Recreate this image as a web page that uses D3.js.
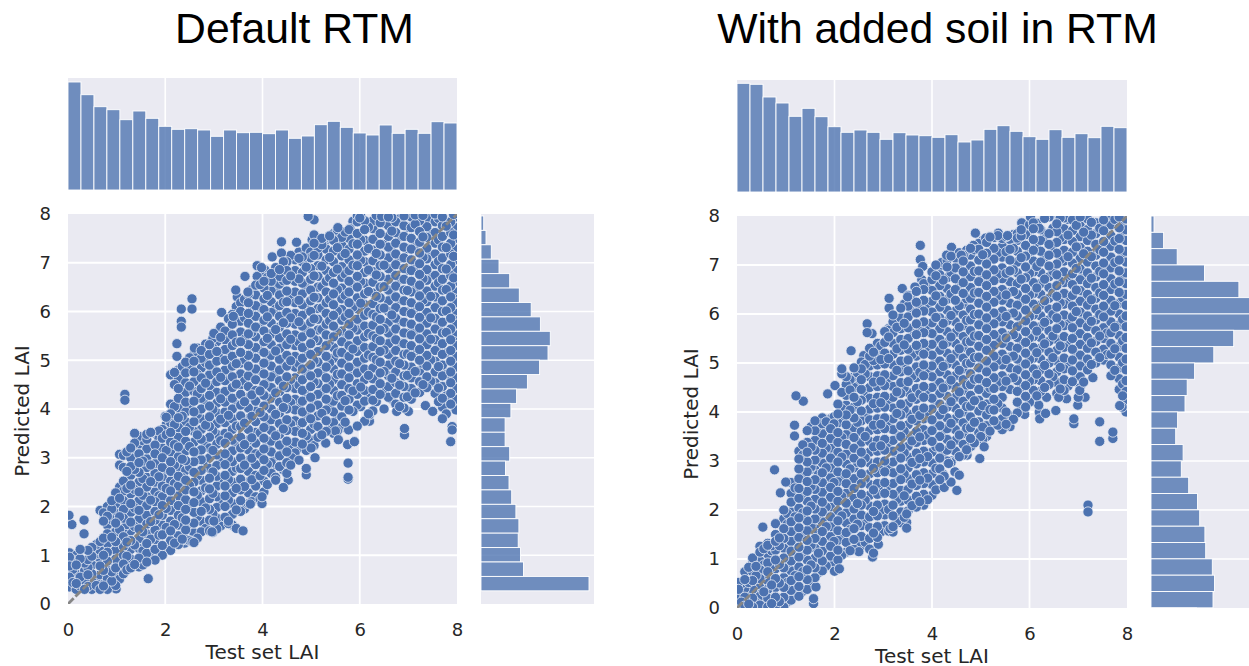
<!DOCTYPE html>
<html><head><meta charset="utf-8">
<script src="https://cdn.jsdelivr.net/npm/d3@7"></script>
<style>html,body{margin:0;background:#fff}svg{display:block}</style></head>
<body><svg id="c" width="1249" height="666"></svg>
<script>
const titles=["Default RTM","With added soil in RTM"];
const xTicks=[0,2,4,6,8];
const yTicks=[0,1,2,3,4,5,6,7,8];
const xLabel="Test set LAI", yLabel="Predicted LAI";

const leftTop=[108,95.3,83.3,80.3,70.3,79,71.7,63.7,60.7,61.3,60,53.7,60,57.3,57.7,56.3,60,51.7,54,65.3,68.7,62.7,57,55,65,56.7,60.7,56.7,68.3,67];
const rightTop=[108.7,107.7,95,89,75.7,83.7,75.3,65.3,59.7,62,59.7,52.7,59.3,57,56.3,54.7,57.3,50,52,62.7,66.3,60.7,55.3,52.7,62.3,54.7,58.3,54.3,65.7,64.3];
const leftSide=[2.7,5,10.3,18,28.7,38.3,50.2,59.4,69.3,67,58.6,46.4,35.6,29.9,24.1,24.1,28.7,24.5,28,30.7,34.9,37.9,37.2,39.5,42.5,108];
const rightSide=[3,12.6,26.2,53.5,87.9,106,108,82.7,62.8,43.6,36.2,34,26.6,24.7,32.1,30.3,37.7,46.5,48.7,53.9,54.7,61.3,63.5,62,45.4];
const leftSideRange=[7.96,0.27];
const rightSideRange=[8.0,-0.33];

const leftColX=[.03,.17,.34,.49,.66,.81,.98,1.14,1.29,1.46,1.62,1.79,1.94,2.11,2.27,2.42,2.59,2.74,2.91,3.06,3.23,3.38,3.55,3.71,3.86,4.03,4.18,4.35,4.5,4.67,4.82,4.99,5.14,5.31,5.46,5.63,5.78,5.95,6.1,6.27,6.42,6.59,6.74,6.91,7.06,7.23,7.38,7.55,7.7,7.87,7.98];
const leftColY=[
[.35,.55,.78,.96,1.05],
[.3,.42,.62,.8,1.0],
[.3,.48,.68,.84],
[.3,.46,.62,.8,.98,1.16],
[.3,.44,.6,.78,.94,1.1,1.28,1.92],
[.3,.52,.7,.88,1.06,1.24,1.44,1.62,1.8,2.0],
[.38,.56,.74,.92,1.1,1.28,1.48,1.66,1.86,2.04,2.28],
[.62,.82,1.0,1.18,1.38,1.56,1.76,1.94,2.12,2.32,2.52,2.8,3.05],
[.74,.92,1.12,1.3,1.5,1.68,1.88,2.06,2.26,2.44,2.64,2.82,3.0,3.2],
[.76,.94,1.14,1.34,1.54,1.74,1.92,2.12,2.3,2.5,2.7,2.9,3.08,3.28,3.44],
[.86,1.04,1.24,1.44,1.64,1.82,2.02,2.2,2.4,2.6,2.8,2.98,3.18,3.38,3.48],
[.9,1.12,1.32,1.52,1.72,1.9,2.1,2.3,2.5,2.68,2.88,3.08,3.26,3.5],
[1.0,1.2,1.42,1.62,1.82,2.02,2.2,2.42,2.6,2.8,3.0,3.2,3.4,3.58],
[1.1,1.3,1.5,1.7,1.92,2.12,2.32,2.52,2.72,2.92,3.12,3.32,3.52,3.72,3.9,4.1,4.7],
[1.22,1.4,1.62,1.82,2.02,2.22,2.42,2.62,2.82,3.02,3.22,3.42,3.62,3.82,4.02,4.22,4.42,4.62,4.8],
[1.32,1.52,1.72,1.94,2.14,2.34,2.54,2.74,2.94,3.14,3.34,3.54,3.74,3.94,4.14,4.34,4.54,4.74,4.96],
[1.26,1.46,1.66,1.88,2.08,2.3,2.5,2.7,2.92,3.12,3.32,3.54,3.74,3.94,4.16,4.36,4.56,4.76,4.98,5.12],
[1.48,1.7,1.9,2.1,2.32,2.54,2.74,2.96,3.16,3.38,3.58,3.8,4.0,4.22,4.42,4.64,4.84,5.04,5.2],
[1.5,1.72,1.94,2.16,2.36,2.58,2.78,3.0,3.2,3.42,3.64,3.84,4.06,4.28,4.48,4.7,4.9,5.12,5.32],
[1.54,1.76,1.98,2.2,2.42,2.62,2.84,3.06,3.28,3.48,3.7,3.92,4.12,4.34,4.56,4.76,4.98,5.18,5.38],
[1.78,2.0,2.22,2.42,2.64,2.86,3.08,3.3,3.5,3.72,3.94,4.14,4.36,4.58,4.8,5.0,5.22,5.42,5.6],
[1.62,1.84,2.06,2.28,2.5,2.72,2.92,3.14,3.36,3.58,3.8,4.0,4.22,4.44,4.66,4.88,5.08,5.3,5.52,5.74,5.94],
[1.9,2.12,2.34,2.56,2.78,3.0,3.2,3.42,3.64,3.86,4.08,4.3,4.5,4.72,4.94,5.16,5.38,5.58,5.8,6.0,6.18],
[2.06,2.28,2.5,2.72,2.94,3.16,3.36,3.58,3.8,4.02,4.24,4.46,4.68,4.88,5.1,5.32,5.54,5.76,5.96,6.18,6.36],
[2.2,2.42,2.64,2.86,3.08,3.3,3.52,3.74,3.96,4.16,4.38,4.6,4.82,5.04,5.26,5.48,5.68,5.9,6.12,6.34,6.54],
[2.3,2.52,2.74,2.96,3.18,3.4,3.62,3.84,4.06,4.28,4.5,4.72,4.94,5.16,5.38,5.6,5.82,6.04,6.26,6.48,6.62],
[2.68,2.9,3.12,3.34,3.56,3.78,4.0,4.22,4.44,4.66,4.88,5.1,5.32,5.54,5.76,5.98,6.2,6.42,6.62,6.78],
[2.82,3.04,3.26,3.48,3.7,3.92,4.14,4.36,4.58,4.8,5.02,5.24,5.46,5.68,5.9,6.12,6.34,6.56,6.72,6.86],
[2.68,2.9,3.12,3.34,3.56,3.78,4.0,4.22,4.44,4.66,4.88,5.1,5.32,5.54,5.76,5.98,6.2,6.42,6.64,6.84,7.02],
[3.1,3.32,3.54,3.76,3.98,4.2,4.42,4.64,4.86,5.08,5.3,5.52,5.74,5.96,6.18,6.4,6.62,6.84,7.06],
[3.28,3.5,3.72,3.94,4.16,4.38,4.6,4.82,5.04,5.26,5.48,5.7,5.92,6.14,6.36,6.58,6.8,7.02,7.12],
[3.36,3.58,3.8,4.02,4.24,4.46,4.68,4.9,5.12,5.34,5.56,5.78,6.0,6.22,6.44,6.66,6.88,7.1,7.22],
[3.42,3.64,3.86,4.08,4.3,4.52,4.74,4.96,5.18,5.4,5.62,5.84,6.06,6.28,6.5,6.72,6.94,7.16,7.3],
[3.54,3.76,3.98,4.2,4.42,4.64,4.86,5.08,5.3,5.52,5.74,5.96,6.18,6.4,6.62,6.84,7.06,7.28,7.46],
[3.5,3.72,3.94,4.16,4.38,4.6,4.82,5.04,5.26,5.48,5.7,5.92,6.14,6.36,6.58,6.8,7.02,7.24,7.46,7.6],
[3.62,3.84,4.06,4.28,4.5,4.72,4.94,5.16,5.38,5.6,5.82,6.04,6.26,6.48,6.7,6.92,7.14,7.36,7.52],
[3.98,4.2,4.42,4.64,4.86,5.08,5.3,5.52,5.74,5.96,6.18,6.4,6.62,6.84,7.06,7.28,7.5,7.68],
[4.08,4.3,4.52,4.74,4.96,5.18,5.4,5.62,5.84,6.06,6.28,6.5,6.72,6.94,7.16,7.38,7.6,7.84,7.96],
[4.16,4.38,4.6,4.82,5.04,5.26,5.48,5.7,5.92,6.14,6.36,6.58,6.8,7.02,7.24,7.46,7.68,7.86],
[3.96,4.18,4.4,4.62,4.84,5.06,5.28,5.5,5.72,5.94,6.16,6.38,6.6,6.82,7.04,7.26,7.48,7.7,7.86],
[4.3,4.52,4.74,4.96,5.18,5.4,5.62,5.84,6.06,6.28,6.5,6.72,6.94,7.16,7.38,7.6,7.82],
[4.24,4.46,4.68,4.9,5.12,5.34,5.56,5.78,6.0,6.22,6.44,6.66,6.88,7.1,7.32,7.54,7.76,7.94],
[4.1,4.32,4.54,4.76,4.98,5.2,5.42,5.64,5.86,6.08,6.3,6.52,6.74,6.96,7.18,7.4,7.62,7.84],
[4.02,4.24,4.46,4.68,4.9,5.12,5.34,5.56,5.78,6.0,6.22,6.44,6.66,6.88,7.1,7.32,7.54,7.76,7.96],
[4.2,4.42,4.64,4.86,5.08,5.3,5.52,5.74,5.96,6.18,6.4,6.62,6.84,7.06,7.28,7.5,7.72,7.94],
[4.34,4.56,4.78,5.0,5.22,5.44,5.66,5.88,6.1,6.32,6.54,6.76,6.98,7.2,7.42,7.64,7.86],
[4.44,4.66,4.88,5.1,5.32,5.54,5.76,5.98,6.2,6.42,6.64,6.86,7.08,7.3,7.52,7.74,7.92],
[4.32,4.54,4.76,4.98,5.2,5.42,5.64,5.86,6.08,6.3,6.52,6.74,6.96,7.18,7.4,7.62,7.84,8.0],
[4.04,4.22,4.46,4.68,4.9,5.12,5.34,5.56,5.78,6.0,6.22,6.44,6.66,6.88,7.1,7.32,7.54,7.76,7.94],
[4.1,4.32,4.54,4.76,4.98,5.2,5.42,5.64,5.86,6.08,6.3,6.52,6.74,6.96,7.18,7.4,7.62,7.84],
[3.98,4.2,4.42,4.64,4.86,5.08,5.3,5.52,5.74,5.96,6.18,6.4,6.62,6.84,7.06,7.28,7.5,7.72,7.94]
];
const leftCol2X=[.1,.25,.41,.58,.73,.9,1.06,1.21,1.37,1.54,1.7,1.87,2.02,2.19,2.35,2.5,2.66,2.83,2.98,3.14,3.3,3.46,3.63,3.78,3.95,4.1,4.27,4.43,4.58,4.75,4.9,5.06,5.22,5.38,5.54,5.7,5.86,6.02,6.18,6.34,6.5,6.66,6.82,6.98,7.14,7.3,7.46,7.62,7.78,7.93];
const leftCol2Y=[
[.44,.71,.9],
[.37,.55,.93,1.12],
[.36,.6,.75,1.1,.91],
[.38,.53,.87,1.22,1.03],
[.37,.69,1.0,1.35,1.7,1.87],
[.47,.66,1.15,1.37,1.73,1.95,2.12],
[.51,.83,1.2,1.53,1.79,2.17,2.4,2.85,3.07],
[.7,.98,1.27,1.63,2.03,2.37,2.72,3.12],
[.81,1.21,1.59,1.97,2.35,2.76,3.1,3.3,3.5],
[.8,1.09,1.48,1.87,2.23,2.57,2.93,3.35],
[.95,1.33,1.69,2.13,2.51,2.85,3.21,3.52],
[1.05,1.41,1.83,2.22,2.61,3.03,3.39,3.55],
[1.15,1.57,1.96,2.37,2.77,3.15,3.47,3.83,3.68],
[1.25,1.63,2.05,2.47,2.85,3.27,3.68,4.05,4.5,4.75],
[1.33,1.77,2.19,2.59,2.97,3.39,3.85,4.27,4.68,4.87],
[1.3,1.57,1.98,2.43,2.81,3.23,3.63,4.04,4.47,4.87,5.05],
[1.35,1.79,2.23,2.63,3.07,3.47,3.89,4.31,4.71,5.25],
[1.55,1.97,2.38,2.83,3.25,3.67,4.09,4.53,4.95,5.33],
[1.47,1.85,2.27,2.71,3.15,3.55,3.99,4.39,4.83,5.25,5.45],
[1.6,2.07,2.51,2.93,3.35,3.79,4.21,4.65,5.07,5.47,5.68],
[1.7,2.13,2.55,2.99,3.43,3.87,4.27,4.71,5.13,5.55,5.85],
[1.55,1.93,2.37,2.79,3.23,3.65,4.09,4.51,4.93,5.37,5.79,6.1],
[1.95,2.41,2.85,3.27,3.71,4.15,4.57,5.01,5.43,5.87,6.25],
[2.1,2.55,2.99,3.41,3.85,4.29,4.71,5.15,5.57,6.01,6.45],
[2.15,2.63,3.07,3.51,3.93,4.37,4.79,5.23,5.67,6.09,6.55,6.78],
[2.45,2.87,3.29,3.73,4.15,4.59,5.03,5.45,5.89,6.33,6.7],
[2.6,3.03,3.45,3.89,4.33,4.75,5.19,5.63,6.05,6.49,6.9],
[2.75,3.17,3.59,4.03,4.47,4.89,5.33,5.77,6.19,6.63,7.02],
[2.85,3.27,3.69,4.13,4.57,4.99,5.43,5.87,6.29,6.73,7.15],
[3.2,3.63,4.07,4.49,4.93,5.37,5.79,6.23,6.67,7.09,7.22],
[3.15,3.45,3.89,4.31,4.75,5.19,5.61,6.05,6.49,6.91,7.3],
[3.25,3.69,4.13,4.55,4.99,5.43,5.85,6.29,6.73,7.15,7.4],
[3.47,3.91,4.33,4.77,5.21,5.63,6.07,6.51,6.93,7.37,7.5],
[3.65,4.09,4.51,4.95,5.39,5.81,6.25,6.69,7.11,7.55],
[3.55,3.85,4.27,4.71,5.15,5.57,6.01,6.45,6.87,7.31,7.67],
[3.73,4.17,4.59,5.03,5.47,5.89,6.33,6.77,7.19,7.63],
[3.95,4.37,4.79,5.23,5.65,6.09,6.53,6.95,7.39,7.85],
[4.05,4.45,4.87,5.31,5.75,6.17,6.61,7.05,7.47,7.95],
[3.9,4.25,4.69,5.11,5.55,5.99,6.41,6.85,7.29,7.73],
[4.15,4.59,5.01,5.45,5.89,6.31,6.75,7.19,7.61,7.97],
[4.35,4.77,5.21,5.65,6.07,6.51,6.95,7.37,7.81],
[4.2,4.63,5.05,5.49,5.93,6.35,6.79,7.23,7.65,7.93],
[4.05,4.49,4.93,5.35,5.79,6.23,6.65,7.09,7.53,7.9],
[4.25,4.69,5.13,5.55,5.99,6.43,6.85,7.29,7.73],
[4.33,4.77,5.19,5.63,6.07,6.49,6.93,7.37,7.79,7.98],
[4.5,4.93,5.37,5.81,6.23,6.67,7.11,7.53,7.97],
[4.57,5.01,5.43,5.87,6.31,6.73,7.17,7.61],
[4.15,4.43,4.87,5.29,5.73,6.17,6.59,7.03,7.47,7.91],
[3.9,4.27,4.71,5.15,5.57,6.01,6.45,6.87,7.31,7.75],
[4.09,4.53,4.97,5.39,5.83,6.27,6.69,7.13,7.57,7.99]
];
const leftOutX=[2.33,2.33,2.33,2.55,2.55,2.24,2.24,3.16,3.1,3.45,3.48,3.64,3.89,3.98,3.89,4.2,4.39,4.39,4.7,4.94,5.06,5.06,5.02,4.94,2.53,1.17,1.17,3.6,2.96,1.65,.99,.02,.33,.33,.08,5.77,5.75,5.89,5.76,5.76,5.76,4.9,4.9,5.08,6.92,6.92,7.87,7.9,7.9,7.35,6.2,6.2,6.76,5.56,4.53,4.43,4.27,3.99,3.99,2.0,4.2,4.6,4.75,5.0,5.3,5.5,5.95,6.1,6.5,7.0,7.5,7.7,3.0,3.3,3.75,2.4,2.55,2.6,3.0,3.4,3.7,4.05,4.45,4.75,5.2,5.4,5.55,5.8,6.0,6.45,7.1];
const leftOutY=[6.05,5.8,5.68,6.26,6.05,5.34,5.08,5.98,5.6,6.44,6.3,6.72,6.94,6.9,6.72,7.12,7.43,7.2,7.42,7.95,7.88,7.57,7.47,7.3,4.9,4.3,4.18,1.5,1.48,.52,.31,1.82,1.72,1.44,1.63,3.57,3.27,3.33,2.89,2.6,2.56,2.78,2.65,3.0,3.6,3.47,3.33,3.64,3.57,4.07,3.75,3.88,3.95,3.37,2.54,2.39,2.54,2.06,2.2,3.85,2.8,3.0,2.95,3.2,3.3,3.55,3.65,3.75,4.0,3.95,3.95,3.8,1.7,1.65,2.05,1.25,1.28,5.25,5.55,5.9,6.4,6.85,6.95,7.1,7.45,7.5,7.72,7.7,7.92,7.95,8];

const rightColX=[.03,.16,.32,.47,.63,.79,.96,1.11,1.27,1.44,1.6,1.75,1.92,2.07,2.24,2.4,2.55,2.72,2.88,3.03,3.2,3.36,3.51,3.68,3.83,4.0,4.16,4.31,4.48,4.64,4.79,4.96,5.12,5.27,5.44,5.6,5.75,5.92,6.08,6.23,6.4,6.56,6.71,6.88,7.04,7.19,7.36,7.52,7.67,7.84,7.98];
const rightColY=[
[.02,.2,.38,.52],
[.04,.22,.4,.58,.74],
[.02,.2,.38,.56,.74,.92,1.02],
[.06,.24,.42,.6,.78,.96,1.14,1.26],
[.02,.2,.38,.56,.74,.92,1.1,1.28,1.32],
[.04,.22,.42,.6,.8,.98,1.18,1.36,1.5,1.72],
[.02,.22,.42,.62,.82,1.02,1.22,1.42,1.62,1.82,2.0],
[.16,.36,.56,.76,.96,1.16,1.36,1.56,1.76,1.96,2.16,2.34,2.56],
[.24,.44,.64,.84,1.04,1.24,1.44,1.64,1.84,2.04,2.24,2.44,2.64,2.84,3.04,3.2],
[.38,.58,.78,.98,1.18,1.38,1.58,1.78,1.98,2.18,2.38,2.58,2.78,2.98,3.18,3.38,3.62],
[.62,.82,1.02,1.22,1.42,1.62,1.82,2.02,2.22,2.42,2.62,2.82,3.02,3.22,3.42,3.62,3.82],
[.76,.96,1.16,1.36,1.56,1.76,1.96,2.16,2.36,2.56,2.76,2.96,3.16,3.36,3.56,3.76,3.88],
[.86,1.06,1.26,1.46,1.66,1.86,2.06,2.26,2.46,2.66,2.86,3.06,3.26,3.46,3.66,3.86],
[.98,1.18,1.38,1.58,1.78,1.98,2.18,2.38,2.58,2.78,2.98,3.18,3.38,3.58,3.78,3.96,4.16],
[1.14,1.34,1.54,1.74,1.94,2.14,2.34,2.54,2.74,2.94,3.14,3.34,3.54,3.74,3.94,4.14,4.34,4.56,4.72],
[1.2,1.4,1.62,1.82,2.02,2.24,2.44,2.64,2.86,3.06,3.26,3.48,3.68,3.88,4.1,4.3,4.5,4.72,4.9],
[1.26,1.46,1.68,1.9,2.1,2.32,2.54,2.74,2.96,3.18,3.38,3.6,3.82,4.02,4.24,4.46,4.66,4.88,5.02],
[1.2,1.42,1.64,1.86,2.08,2.3,2.52,2.74,2.96,3.18,3.4,3.62,3.84,4.06,4.28,4.5,4.72,4.94,5.14,5.3],
[1.44,1.66,1.88,2.1,2.32,2.54,2.76,2.98,3.2,3.42,3.64,3.86,4.08,4.3,4.52,4.74,4.96,5.18,5.4],
[1.68,1.9,2.12,2.34,2.56,2.78,3.0,3.22,3.44,3.66,3.88,4.1,4.32,4.54,4.76,4.98,5.2,5.42,5.64],
[1.66,1.88,2.1,2.32,2.54,2.76,2.98,3.2,3.42,3.64,3.86,4.08,4.3,4.52,4.74,4.96,5.18,5.4,5.62,5.84,5.98],
[1.74,1.96,2.18,2.4,2.62,2.84,3.06,3.28,3.5,3.72,3.94,4.16,4.38,4.6,4.82,5.04,5.26,5.48,5.7,5.92,6.12],
[1.98,2.2,2.42,2.64,2.86,3.08,3.3,3.52,3.74,3.96,4.18,4.4,4.62,4.84,5.06,5.28,5.5,5.72,5.94,6.16,6.38],
[2.06,2.28,2.5,2.72,2.94,3.16,3.38,3.6,3.82,4.04,4.26,4.48,4.7,4.92,5.14,5.36,5.58,5.8,6.02,6.24,6.46],
[2.1,2.32,2.54,2.76,2.98,3.2,3.42,3.64,3.86,4.08,4.3,4.52,4.74,4.96,5.18,5.4,5.62,5.84,6.06,6.28,6.5,6.62],
[2.3,2.52,2.74,2.96,3.18,3.4,3.62,3.84,4.06,4.28,4.5,4.72,4.94,5.16,5.38,5.6,5.82,6.04,6.26,6.48,6.7,6.86],
[2.62,2.84,3.06,3.28,3.5,3.72,3.94,4.16,4.38,4.6,4.82,5.04,5.26,5.48,5.7,5.92,6.14,6.36,6.58,6.8,6.98],
[3.0,3.22,3.44,3.66,3.88,4.1,4.32,4.54,4.76,4.98,5.2,5.42,5.64,5.86,6.08,6.3,6.52,6.74,6.96,7.1],
[3.2,3.42,3.64,3.86,4.08,4.3,4.52,4.74,4.96,5.18,5.4,5.62,5.84,6.06,6.28,6.5,6.72,6.94,7.14],
[3.12,3.34,3.56,3.78,4.0,4.22,4.44,4.66,4.88,5.1,5.32,5.54,5.76,5.98,6.2,6.42,6.64,6.86,7.08,7.2],
[3.46,3.68,3.9,4.12,4.34,4.56,4.78,5.0,5.22,5.44,5.66,5.88,6.1,6.32,6.54,6.76,6.98,7.2,7.34],
[3.58,3.8,4.02,4.24,4.46,4.68,4.9,5.12,5.34,5.56,5.78,6.0,6.22,6.44,6.66,6.88,7.1,7.32,7.44],
[3.5,3.72,3.94,4.16,4.38,4.6,4.82,5.04,5.26,5.48,5.7,5.92,6.14,6.36,6.58,6.8,7.02,7.24,7.46],
[3.82,4.04,4.26,4.48,4.7,4.92,5.14,5.36,5.58,5.8,6.02,6.24,6.46,6.68,6.9,7.12,7.34,7.56],
[3.64,3.86,4.08,4.3,4.52,4.74,4.96,5.18,5.4,5.62,5.84,6.06,6.28,6.5,6.72,6.94,7.16,7.38,7.54],
[3.7,3.92,4.46,4.68,4.9,5.12,5.34,5.56,5.78,6.0,6.22,6.44,6.66,6.88,7.1,7.32,7.52],
[3.98,4.2,4.42,4.64,4.86,5.08,5.3,5.52,5.74,5.96,6.18,6.4,6.62,6.84,7.06,7.28,7.5,7.64],
[4.1,4.32,4.54,4.76,4.98,5.2,5.42,5.64,5.86,6.08,6.3,6.52,6.74,6.96,7.18,7.4,7.62,7.74],
[4.22,4.44,4.66,4.88,5.1,5.32,5.54,5.76,5.98,6.2,6.42,6.64,6.86,7.08,7.3,7.52,7.74,7.86],
[4.42,4.64,4.86,5.08,5.3,5.52,5.74,5.96,6.18,6.4,6.62,6.84,7.06,7.28,7.5,7.72],
[4.56,4.78,5.0,5.22,5.44,5.66,5.88,6.1,6.32,6.54,6.76,6.98,7.2,7.42,7.64,7.98],
[4.38,4.6,4.82,5.04,5.26,5.48,5.7,5.92,6.14,6.36,6.58,6.8,7.02,7.24,7.46,7.68,7.84],
[4.44,4.66,4.88,5.1,5.32,5.54,5.76,5.98,6.2,6.42,6.64,6.86,7.08,7.3,7.52,7.74,7.96],
[4.62,4.84,5.06,5.28,5.5,5.72,5.94,6.16,6.38,6.6,6.82,7.04,7.26,7.48,7.7,7.92],
[4.5,4.72,4.94,5.16,5.38,5.6,5.82,6.04,6.26,6.48,6.7,6.92,7.14,7.36,7.58,7.8,7.98],
[4.86,5.08,5.3,5.52,5.74,5.96,6.18,6.4,6.62,6.84,7.06,7.28,7.5,7.72,7.94],
[5.0,5.22,5.44,5.66,5.88,6.1,6.32,6.54,6.76,6.98,7.2,7.42,7.64,7.86],
[5.06,5.28,5.5,5.72,5.94,6.16,6.38,6.6,6.82,7.04,7.26,7.48,7.7,7.92],
[4.74,4.96,5.18,5.4,5.62,5.84,6.06,6.28,6.5,6.72,6.94,7.16,7.38,7.6,7.82],
[4.46,4.68,4.9,5.12,5.34,5.56,5.78,6.0,6.22,6.44,6.66,6.88,7.1,7.32,7.54,7.76,7.98],
[4.2,4.42,4.64,4.86,5.08,5.3,5.52,5.74,5.96,6.18,6.4,6.62,6.84,7.06,7.28,7.5,7.72,7.94]
];
const rightCol2X=[.09,.24,.39,.55,.71,.87,1.03,1.19,1.35,1.52,1.67,1.83,1.99,2.15,2.32,2.47,2.63,2.8,2.95,3.11,3.28,3.43,3.59,3.75,3.91,4.08,4.23,4.39,4.56,4.71,4.87,5.04,5.19,5.35,5.52,5.67,5.83,6.0,6.15,6.31,6.48,6.63,6.79,6.96,7.11,7.27,7.44,7.59,7.75,7.91];
const rightCol2Y=[
[.12,.33,.49],
[.08,.31,.52,.83],
[.11,.29,.66,.85],
[.15,.33,.69,.88,1.21],
[.09,.47,.83,1.17,1.27],
[.13,.51,.89,1.27,1.43],
[.12,.52,.92,1.32,1.71,1.93],
[.26,.66,1.06,1.46,1.86,2.25,2.45],
[.34,.74,1.14,1.54,1.94,2.34,2.74,3.12,3.33],
[.48,.88,1.28,1.68,2.08,2.48,2.88,3.28,3.7],
[.72,1.12,1.52,1.92,2.32,2.72,3.12,3.52,3.72],
[.86,1.26,1.66,2.06,2.46,2.86,3.26,3.66,3.8],
[.93,1.36,1.76,2.16,2.56,2.96,3.36,3.76,3.9],
[1.08,1.48,1.88,2.28,2.68,3.08,3.48,3.88,4.07,4.4],
[1.17,1.6,2.04,2.44,2.84,3.24,3.64,4.04,4.45,4.66],
[1.29,1.71,2.13,2.55,2.97,3.37,3.79,4.21,4.63,4.8],
[1.34,1.78,2.2,2.64,3.06,3.5,3.92,4.36,4.78,4.97],
[1.12,1.53,1.97,2.41,2.85,3.29,3.73,4.17,4.61,5.05,5.22],
[1.55,1.99,2.43,2.87,3.31,3.75,4.19,4.63,5.07,5.35],
[1.57,2.01,2.45,2.89,3.33,3.77,4.21,4.65,5.09,5.53,5.7],
[1.77,2.21,2.65,3.09,3.53,3.97,4.41,4.85,5.29,5.73,5.9],
[1.85,2.29,2.73,3.17,3.61,4.05,4.49,4.93,5.37,5.81,6.2],
[2.09,2.53,2.97,3.41,3.85,4.29,4.73,5.17,5.61,6.05,6.3],
[2.17,2.61,3.05,3.49,3.93,4.37,4.81,5.25,5.69,6.13,6.55],
[2.21,2.65,3.09,3.53,3.97,4.41,4.85,5.29,5.73,6.17,6.58],
[2.41,2.85,3.29,3.73,4.17,4.61,5.05,5.49,5.93,6.37,6.78,7.0],
[2.73,3.17,3.61,4.05,4.49,4.93,5.37,5.81,6.25,6.69,7.05],
[2.57,2.97,3.33,3.77,4.21,4.65,5.09,5.53,5.97,6.41,6.85,7.18],
[3.09,3.53,3.97,4.41,4.85,5.29,5.73,6.17,6.61,7.05,7.25],
[3.23,3.67,4.11,4.55,4.99,5.43,5.87,6.31,6.75,7.19,7.3],
[3.37,3.79,4.23,4.67,5.11,5.55,5.99,6.43,6.87,7.31],
[3.44,3.69,4.13,4.57,5.01,5.45,5.89,6.33,6.77,7.21,7.5],
[3.61,4.05,4.49,4.93,5.37,5.81,6.25,6.69,7.13,7.57],
[3.73,4.17,4.61,5.05,5.49,5.93,6.37,6.81,7.25,7.6],
[3.75,4.0,4.63,5.07,5.51,5.95,6.39,6.83,7.27,7.58],
[3.85,4.7,5.14,5.58,6.02,6.46,6.9,7.34,7.62],
[4.07,4.51,4.95,5.39,5.83,6.27,6.71,7.15,7.59,7.72],
[4.2,4.63,5.07,5.51,5.95,6.39,6.83,7.27,7.71,7.82],
[4.33,4.77,5.21,5.65,6.09,6.53,6.97,7.41,7.85],
[4.5,4.95,5.39,5.83,6.27,6.71,7.15,7.59,7.95],
[4.72,5.11,5.55,5.99,6.43,6.87,7.31,7.75],
[4.47,4.91,5.35,5.79,6.23,6.67,7.11,7.55,7.96],
[4.53,4.97,5.41,5.85,6.29,6.73,7.17,7.61,7.93],
[4.73,5.17,5.61,6.05,6.49,6.93,7.37,7.81],
[4.61,5.03,5.47,5.91,6.35,6.79,7.23,7.67,7.99],
[4.97,5.41,5.85,6.29,6.73,7.17,7.61,7.87],
[5.11,5.55,5.99,6.43,6.87,7.31,7.75],
[5.17,5.61,6.05,6.49,6.93,7.37,7.81,7.97],
[4.85,5.29,5.73,6.17,6.61,7.05,7.49,7.93],
[4.33,4.57,5.01,5.45,5.89,6.33,6.77,7.21,7.65,7.9]
];
const rightOutX=[3.76,3.76,3.81,3.73,3.79,3.39,3.12,3.12,2.67,2.67,2.77,3.11,2.34,2.15,2.15,4.4,4.89,5.36,5.19,5.84,6.02,6.42,1.21,1.36,1.86,2.01,1.18,1.18,.77,1.0,.89,.53,7.2,7.2,7.44,7.44,7.71,7.71,6.91,6.91,6.54,6.21,6.33,5.07,4.98,4.72,4.72,4.47,4.56,4.51,4.25,4.25,4.34,2.78,2.1,1.57,1.57,1.62,3.48,3.48,3.48,3.14,7.98,7.85,7.14,7.03,6.76,6.99,6.19,6.35,2.6,3.3,3.5,3.65,4.0,4.2,4.3,4.6,4.85,5.1,5.55,5.75,6.2,6.6,4.4,4.8,5.0,5.5,5.9,6.2,6.6,7.0,7.3,7.9,3.8,3.2,2.9,2.5,2.0];
const rightOutY=[7.4,7.11,6.97,6.84,6.7,6.52,6.32,6.12,5.8,5.62,5.6,5.67,5.25,4.88,4.78,7.36,7.65,7.65,7.58,7.86,7.98,8,4.33,4.22,4.37,4.54,3.73,3.51,2.82,2.57,2.35,1.65,2.1,1.96,3.8,3.4,3.59,3.46,3.86,3.76,4.03,3.86,3.97,3.29,3.05,3.22,3.12,2.78,2.71,2.4,2.46,2.69,2.95,1.04,.8,.19,.09,.43,1.63,1.75,1.92,1.62,4.0,4.13,4.3,4.44,4.27,4.14,4.14,4.3,5.15,5.9,6.35,6.55,6.85,7.05,7.2,7.2,7.4,7.55,7.6,7.55,7.75,7.95,3.0,3.3,3.5,3.7,3.95,4.0,4.3,4.3,4.7,4.1,2.25,1.55,1.3,1.15,.75];

const BG="#eaeaf2", BAR="#4c72b0", TXT="#262626", FONT="'DejaVu Sans',sans-serif";
const svg=d3.select("#c");

function flatten(colX,colY,col2X,col2Y,outX,outY){
  const pts=[];
  colX.forEach((x,i)=>colY[i].forEach(y=>pts.push([x,y])));
  col2X.forEach((x,i)=>col2Y[i].forEach(y=>pts.push([x,y])));
  outX.forEach((x,i)=>pts.push([x,outY[i]]));
  const key=d=>{const v=d[0]*97.3+d[1]*131.7;return v-Math.floor(v);};
  return pts.sort((a,b)=>key(a)-key(b));
}

function panel(id,t,titleX,L,R,mainT,mainB,topT,topB,sideL,sideR,top,side,sideRange,pts,labelY){
  const x=d3.scaleLinear().domain([0,8]).range([L,R]);
  const y=d3.scaleLinear().domain([0,8]).range([mainB,mainT]);
  const g=svg.append("g");
  g.append("text").attr("x",titleX).attr("y",43).attr("text-anchor","middle")
    .attr("font-family","'Liberation Sans',Arial,sans-serif").attr("font-size",42.7).attr("fill","#000").text(t);

  g.append("rect").attr("x",L).attr("y",topT).attr("width",R-L).attr("height",topB-topT).attr("fill",BG);
  const topY=d3.scaleLinear().domain([0,112]).range([topB,topT]);
  xTicks.slice(1,-1).forEach(v=>g.append("line").attr("x1",x(v)).attr("x2",x(v)).attr("y1",topT).attr("y2",topB).attr("stroke","#fff").attr("stroke-width",1.6));
  const step=8/top.length;
  g.append("g").selectAll("rect").data(top).join("rect")
    .attr("x",(d,i)=>x(i*step)).attr("width",(d,i)=>x((i+1)*step)-x(i*step))
    .attr("y",d=>topY(d)).attr("height",d=>topB-topY(d))
    .attr("fill",BAR).attr("fill-opacity",.78).attr("stroke","#fff").attr("stroke-width",.9);

  const clipId="clip"+id, clipS="clipS"+id;
  const defs=svg.append("defs");
  defs.append("clipPath").attr("id",clipS).append("rect").attr("x",sideL).attr("y",mainT).attr("width",sideR-sideL).attr("height",mainB-mainT);
  defs.append("clipPath").attr("id",clipId).append("rect").attr("x",L).attr("y",mainT).attr("width",R-L).attr("height",mainB-mainT);
  g.append("rect").attr("x",sideL).attr("y",mainT).attr("width",sideR-sideL).attr("height",mainB-mainT).attr("fill",BG);
  yTicks.slice(1,-1).forEach(v=>g.append("line").attr("x1",sideL).attr("x2",sideR).attr("y1",y(v)).attr("y2",y(v)).attr("stroke","#fff").attr("stroke-width",1.6));
  const sideX=d3.scaleLinear().domain([0,113]).range([sideL,sideL+113]);
  const sStep=(sideRange[0]-sideRange[1])/side.length;
  g.append("g").attr("clip-path",`url(#${clipS})`).selectAll("rect").data(side).join("rect")
    .attr("x",sideL).attr("width",d=>sideX(d)-sideL)
    .attr("y",(d,i)=>y(sideRange[0]-i*sStep)).attr("height",(d,i)=>y(sideRange[0]-(i+1)*sStep)-y(sideRange[0]-i*sStep))
    .attr("fill",BAR).attr("fill-opacity",.78).attr("stroke","#fff").attr("stroke-width",.9);

  g.append("rect").attr("x",L).attr("y",mainT).attr("width",R-L).attr("height",mainB-mainT).attr("fill",BG);
  xTicks.slice(1,-1).forEach(v=>g.append("line").attr("x1",x(v)).attr("x2",x(v)).attr("y1",mainT).attr("y2",mainB).attr("stroke","#fff").attr("stroke-width",1.8));
  yTicks.slice(1,-1).forEach(v=>g.append("line").attr("x1",L).attr("x2",R).attr("y1",y(v)).attr("y2",y(v)).attr("stroke","#fff").attr("stroke-width",1.8));
  const plot=g.append("g").attr("clip-path",`url(#${clipId})`);
  plot.selectAll("circle").data(pts).join("circle")
    .attr("cx",d=>x(d[0])).attr("cy",d=>y(d[1])).attr("r",5.1)
    .attr("fill",BAR).attr("stroke","#e8ecf5").attr("stroke-width",.8);
  plot.append("line").attr("x1",x(0)).attr("y1",y(0)).attr("x2",x(8)).attr("y2",y(8))
    .attr("stroke","#868686").attr("stroke-width",2.8).attr("stroke-dasharray","8,2.5");

  const ax=g.append("g").attr("transform",`translate(0,${mainB})`).call(d3.axisBottom(x).tickValues(xTicks).tickSize(0).tickPadding(19).tickFormat(d3.format("d")));
  const ay=g.append("g").attr("transform",`translate(${L},0)`).call(d3.axisLeft(y).tickValues(yTicks).tickSize(0).tickPadding(17).tickFormat(d3.format("d")));
  [ax,ay].forEach(a=>{a.select(".domain").remove();a.selectAll("text").attr("font-family",FONT).attr("font-size",18).attr("fill",TXT);});
  g.append("text").attr("x",(L+R)/2).attr("y",mainB+55).attr("text-anchor","middle").attr("font-family",FONT).attr("font-size",20).attr("fill",TXT).text(xLabel);
  g.append("text").attr("transform",`translate(${labelY},${(mainT+mainB)/2+2}) rotate(-90)`).attr("text-anchor","middle").attr("font-family",FONT).attr("font-size",20).attr("fill",TXT).text(yLabel);
}

panel("A",titles[0],294.5,68,457,214,604,78,190,481,594,leftTop,leftSide,leftSideRange,flatten(leftColX,leftColY,leftCol2X,leftCol2Y,leftOutX,leftOutY),29);
panel("B",titles[1],937.5,737,1127,216,608,80,192,1151,1264,rightTop,rightSide,rightSideRange,flatten(rightColX,rightColY,rightCol2X,rightCol2Y,rightOutX,rightOutY),698);
</script></body></html>
